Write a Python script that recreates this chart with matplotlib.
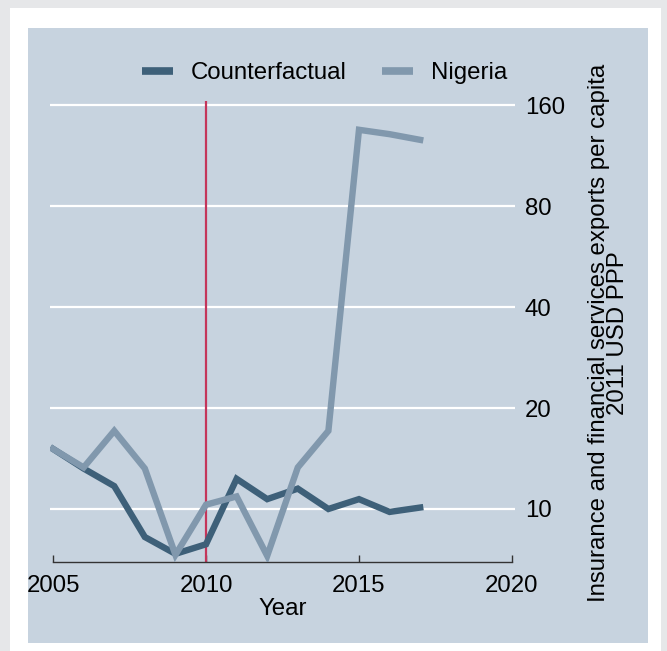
import matplotlib
matplotlib.use("Agg")
import matplotlib.pyplot as plt
from matplotlib.patches import Rectangle
from matplotlib.ticker import FixedLocator, NullLocator

years = [2005, 2006, 2007, 2008, 2009, 2010, 2011, 2012, 2013, 2014, 2015, 2016, 2017]
counterfactual = [15.1, 13.2, 11.7, 8.25, 7.35, 7.85, 12.3, 10.7, 11.5, 10.0, 10.7, 9.8, 10.1]
nigeria = [15.1, 13.3, 17.1, 13.2, 7.3, 10.3, 10.9, 7.25, 13.3, 17.1, 135.0, 131.0, 126.0]
yticks = [10, 20, 40, 80, 160]
xticks = [2005, 2010, 2015, 2020]
treat_year = 2010

plt.rcParams['font.family'] = ['Liberation Sans', 'DejaVu Sans']
FS = 17.3

W, H = 667, 651
fig = plt.figure(figsize=(W / 100, H / 100), dpi=100)
fig.patch.set_facecolor('#e6e7e9')

def frect(x0, y0, x1, y1, color):
    # pixel coords from top-left
    fig.patches.append(Rectangle((x0 / W, 1 - y1 / H), (x1 - x0) / W, (y1 - y0) / H,
                                 transform=fig.transFigure, facecolor=color,
                                 edgecolor='none', zorder=-10))

frect(10, 8, 661, 651, 'white')
frect(28, 28, 648, 643, '#c7d3df')

ax = fig.add_axes([50 / W, 1 - 562 / H, 465 / W, 461 / H])
ax.set_facecolor('none')
ax.set_yscale('log')
ax.set_xlim(2004.9, 2020.1)
ax.set_ylim(6.95, 164.5)

for v in yticks:
    ax.axhline(v, color='white', lw=1.6, zorder=1)

ax.axvline(treat_year, color='#c4355a', lw=1.6, zorder=2)

ax.plot(years, counterfactual, color='#3e6079', lw=4.6, label='Counterfactual',
        solid_joinstyle='miter', zorder=3)
ax.plot(years, nigeria, color='#8198ad', lw=4.6, label='Nigeria',
        solid_joinstyle='miter', zorder=3)

for s in ['top', 'left', 'right']:
    ax.spines[s].set_visible(False)
ax.spines['bottom'].set_bounds(2005, 2020)
ax.spines['bottom'].set_color('#333333')
ax.spines['bottom'].set_linewidth(1.0)

ax.xaxis.set_major_locator(FixedLocator(xticks))
ax.set_xticklabels([str(x) for x in xticks])
ax.tick_params(axis='x', direction='in', length=5, width=1.0, color='#333333',
               labelsize=FS, pad=9)

ax.yaxis.tick_right()
ax.yaxis.set_label_position('right')
ax.yaxis.set_major_locator(FixedLocator(yticks))
ax.yaxis.set_minor_locator(NullLocator())
ax.set_yticklabels([str(v) for v in yticks])
ax.tick_params(axis='y', which='both', length=0, labelsize=FS, pad=7)

ax.set_xlabel('Year', fontsize=FS, labelpad=1)
ax.set_ylabel('Insurance and financial services exports per capita\n2011 USD PPP',
              fontsize=FS, linespacing=0.85)
ax.yaxis.set_label_coords(1.157, 0.497)

leg = ax.legend(loc='lower center', bbox_to_anchor=(0.59, 1.0), ncol=2, frameon=False,
                fontsize=FS, handlelength=1.3, columnspacing=1.45, handletextpad=0.75,
                borderaxespad=0.3)
for h in leg.get_lines():
    h.set_linewidth(5.5)
    h.set_solid_capstyle('butt')

fig.savefig('out.png', dpi=100, facecolor=fig.get_facecolor())
